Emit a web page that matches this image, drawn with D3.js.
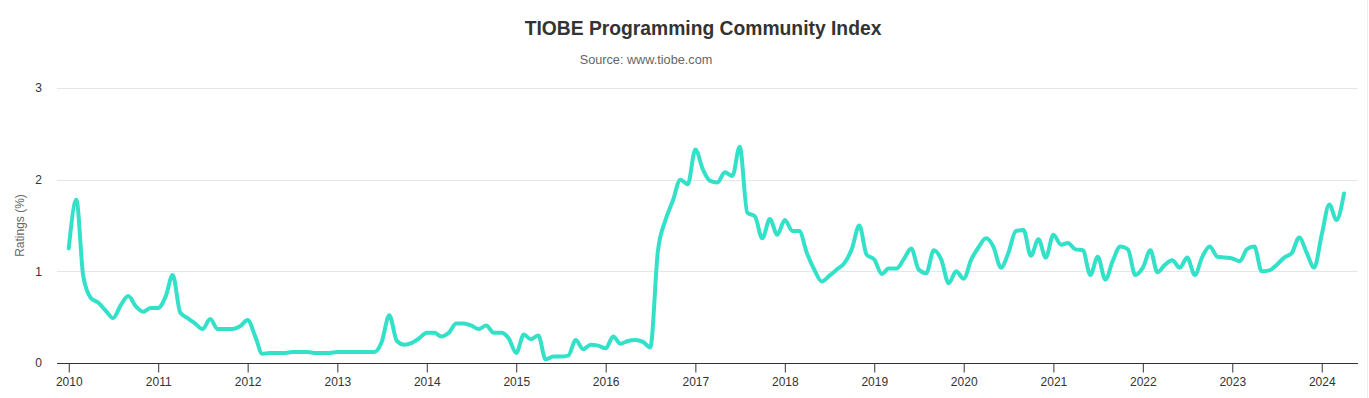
<!DOCTYPE html>
<html>
<head>
<meta charset="utf-8">
<script src="https://cdn.jsdelivr.net/npm/d3@7"></script>
<style>
    body { margin: 0; background: #fff; }
    svg { display: block; font-family: "Liberation Sans", Arial, sans-serif; }
</style>
</head>
<body>
<div id="chart"></div>
<script>
// Monthly ratings, Jan 2010 .. Apr 2024
const startMonth = new Date(2010, 0, 1);
const endMonth = new Date(2024, 4, 1);

const ratings = [
    // 2010
    1.25, 1.78, 0.95, 0.71, 0.66, 0.57, 0.49, 0.63, 0.73, 0.62, 0.56, 0.60,
    // 2011
    0.60, 0.73, 0.96, 0.55, 0.49, 0.43, 0.37, 0.48, 0.37, 0.37, 0.37, 0.40,
    // 2012
    0.47, 0.29, 0.10, 0.11, 0.11, 0.11, 0.12, 0.12, 0.12, 0.11, 0.11, 0.11,
    // 2013
    0.12, 0.12, 0.12, 0.12, 0.12, 0.12, 0.23, 0.52, 0.24, 0.20, 0.22, 0.27,
    // 2014
    0.33, 0.33, 0.29, 0.33, 0.43, 0.43, 0.41, 0.37, 0.41, 0.33, 0.33, 0.27,
    // 2015
    0.11, 0.31, 0.26, 0.30, 0.04, 0.07, 0.07, 0.08, 0.25, 0.15, 0.20, 0.19,
    // 2016
    0.16, 0.29, 0.21, 0.24, 0.25, 0.23, 0.17, 1.22, 1.56, 1.77, 2.00, 1.95,
    // 2017
    2.33, 2.11, 1.99, 1.97, 2.08, 2.04, 2.36, 1.64, 1.60, 1.36, 1.57, 1.40,
    // 2018
    1.56, 1.44, 1.44, 1.20, 1.02, 0.89, 0.95, 1.02, 1.09, 1.24, 1.50, 1.18,
    // 2019
    1.13, 0.97, 1.03, 1.03, 1.13, 1.25, 1.02, 0.98, 1.23, 1.13, 0.87, 1.00,
    // 2020
    0.92, 1.13, 1.26, 1.36, 1.27, 1.04, 1.20, 1.44, 1.45, 1.17, 1.35, 1.15,
    // 2021
    1.40, 1.29, 1.31, 1.24, 1.23, 0.96, 1.16, 0.91, 1.12, 1.27, 1.24, 0.96,
    // 2022
    1.04, 1.23, 0.99, 1.07, 1.12, 1.04, 1.15, 0.96, 1.16, 1.27, 1.16, 1.15,
    // 2023
    1.14, 1.11, 1.24, 1.27, 1.00, 1.01, 1.07, 1.15, 1.20, 1.37, 1.20, 1.04,
    // 2024
    1.40, 1.73, 1.56, 1.85
];

const yTicks = [0, 1, 2, 3];
const xTickYears = d3.range(2010, 2025);

const width = 1369, height = 398;
const plot = { left: 57, right: 1358, top: 88, bottom: 363 };

const months = d3.timeMonth.range(startMonth, endMonth);
const data = months.map((d, i) => ({ date: d, value: ratings[i] }));

const svg = d3.select("#chart").append("svg")
    .attr("width", width)
    .attr("height", height);

svg.append("rect")
    .attr("width", width)
    .attr("height", height)
    .attr("fill", "#fff");

const x = d3.scaleTime()
    .domain([new Date(2009, 10, 14), new Date(2024, 4, 28)])
    .range([plot.left, plot.right]);

const y = d3.scaleLinear()
    .domain([0, 3])
    .range([plot.bottom, plot.top]);

// titles
svg.append("text")
    .attr("x", 703)
    .attr("y", 35)
    .attr("text-anchor", "middle")
    .style("font-size", "19.3px")
    .style("font-weight", "bold")
    .style("fill", "#333")
    .text("TIOBE Programming Community Index");

svg.append("text")
    .attr("x", 646)
    .attr("y", 64)
    .attr("text-anchor", "middle")
    .style("font-size", "12.7px")
    .style("fill", "#666")
    .text("Source: www.tiobe.com");

// grid
svg.append("g")
    .selectAll("line")
    .data(yTicks.filter(t => t > 0))
    .enter().append("line")
    .attr("x1", plot.left)
    .attr("x2", plot.right)
    .attr("y1", d => Math.round(y(d)) + 0.5)
    .attr("y2", d => Math.round(y(d)) + 0.5)
    .attr("stroke", "#e6e6e6");

// y labels
const yAxis = svg.append("g")
    .attr("transform", `translate(${plot.left - 15},0)`)
    .call(d3.axisLeft(y).tickValues(yTicks).tickSize(0).tickPadding(0).tickFormat(d3.format("d")));
yAxis.select(".domain").remove();
yAxis.selectAll("text")
    .style("font-size", "12px")
    .style("fill", "#333")
    .style("font-family", "Liberation Sans, Arial, sans-serif");

svg.append("text")
    .attr("transform", `translate(24,${(plot.top + plot.bottom) / 2}) rotate(-90)`)
    .attr("text-anchor", "middle")
    .style("font-size", "12px")
    .style("fill", "#666")
    .text("Ratings (%)");

// x axis
const xAxis = svg.append("g")
    .attr("transform", `translate(0,${Math.round(plot.bottom) + 0.5})`)
    .call(d3.axisBottom(x)
        .tickValues(xTickYears.map(yr => new Date(yr, 0, 1)))
        .tickSize(9)
        .tickSizeOuter(0)
        .tickPadding(5)
        .tickFormat(d3.timeFormat("%Y")));
xAxis.select(".domain")
    .attr("stroke", "#333")
    .attr("d", `M${plot.left},0H${plot.right}`);
xAxis.selectAll(".tick line").attr("stroke", "#333");
xAxis.selectAll("text")
    .style("font-size", "12px")
    .style("fill", "#333")
    .style("font-family", "Liberation Sans, Arial, sans-serif");

// series
const line = d3.line()
    .x(d => x(d.date))
    .y(d => y(d.value))
    .curve(d3.curveMonotoneX);

svg.append("path")
    .datum(data)
    .attr("d", line)
    .attr("fill", "none")
    .attr("stroke", "#33e0c8")
    .attr("stroke-width", 4)
    .attr("stroke-linejoin", "round")
    .attr("stroke-linecap", "round");

// faint right edge
svg.append("line")
    .attr("x1", width - 1.5).attr("x2", width - 1.5)
    .attr("y1", 0).attr("y2", height)
    .attr("stroke", "#eee");
</script>
</body>
</html>
